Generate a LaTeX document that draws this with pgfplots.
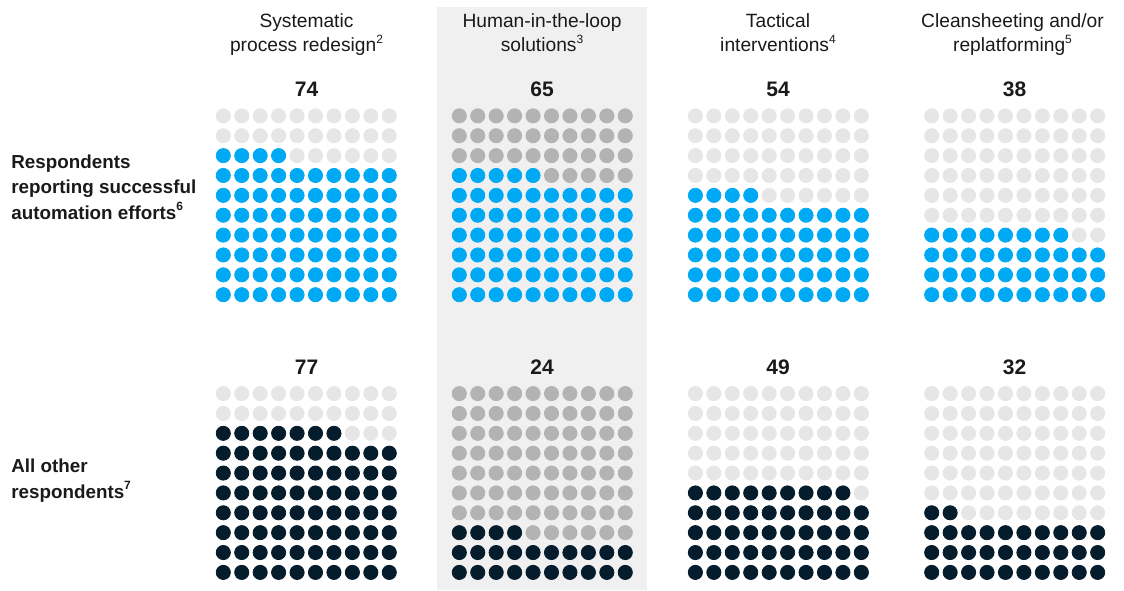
\documentclass[border=0pt]{standalone}
\usepackage{pgfplots}
\pgfplotsset{compat=1.18}
\usepackage{fontspec}
\setmainfont{Liberation Sans}
\definecolor{mckblue}{HTML}{00A9F4}
\definecolor{navy}{HTML}{051C2C}
\definecolor{lightdot}{HTML}{E6E6E6}
\definecolor{darkdot}{HTML}{B3B3B3}
\definecolor{panelbg}{HTML}{F0F0F0}
\definecolor{txt}{HTML}{1A1A1A}

% builds the coordinate lists of a 10x10 waffle: #1 x of first column, #2 y of bottom row, #3 value
\newcommand\buildwaffle[3]{%
  \gdef\filledlist{}\gdef\emptylist{}%
  \foreach \r in {0,...,9}{%
    \foreach \c in {0,...,9}{%
      \pgfmathtruncatemacro\idx{\r*10+\c+1}%
      \pgfmathsetmacro\xx{#1+\c*18.44}%
      \pgfmathsetmacro\yy{#2-\r*19.87}%
      \ifnum\idx>#3\relax
        \xdef\emptylist{\emptylist(\xx,\yy)}%
      \else
        \xdef\filledlist{\filledlist(\xx,\yy)}%
      \fi
    }%
  }%
}
\newcommand\waffle[5]{%
  \buildwaffle{#1}{#2}{#3}%
  \edef\tmp{%
    \noexpand\addplot[only marks, mark=*, mark size=3.55pt, color=#5, mark options={draw=none, fill=#5}] coordinates {\emptylist};
    \noexpand\addplot[only marks, mark=*, mark size=3.55pt, color=#4, mark options={draw=none, fill=#4}] coordinates {\filledlist};
  }\tmp
}
\newcommand\fnsup[1]{\raisebox{0.45em}{\fontsize{6}{6}\selectfont #1}}

\begin{document}
\begin{tikzpicture}
\begin{axis}[
  scale only axis, width=562pt, height=295pt,
  xmin=0, xmax=1124, ymin=0, ymax=590, y dir=reverse,
  hide axis, clip=false,
  every node/.append style={inner sep=0pt, outer sep=0pt, text=txt},
]
\path (axis cs:0,0) rectangle (axis cs:1124,590);
% shaded panel
\addplot[fill=panelbg, draw=none] coordinates {(437,7) (647,7) (647,590) (437,590)} -- cycle;

% top row: respondents reporting successful automation efforts
\waffle{223.3}{294.7}{74}{mckblue}{lightdot}
\waffle{459.3}{294.7}{65}{mckblue}{darkdot}
\waffle{695.4}{294.7}{54}{mckblue}{lightdot}
\waffle{931.7}{294.7}{38}{mckblue}{lightdot}
% bottom row: all other respondents
\waffle{223.3}{572.4}{77}{navy}{lightdot}
\waffle{459.3}{572.4}{24}{navy}{darkdot}
\waffle{695.4}{572.4}{49}{navy}{lightdot}
\waffle{931.7}{572.4}{32}{navy}{lightdot}

% column headers
\begin{scope}[every node/.style={anchor=base, inner sep=0pt, text=txt, font=\fontsize{9.6}{12}\selectfont}]
\node at (axis cs:306.5,27.7) {Systematic};
\node at (axis cs:306.5,51.7) {process redesign\fnsup{2}};
\node at (axis cs:542,27.7) {Human-in-the-loop};
\node at (axis cs:542,51.7) {solutions\fnsup{3}};
\node at (axis cs:778,27.7) {Tactical};
\node at (axis cs:778,51.7) {interventions\fnsup{4}};
\node at (axis cs:1012.5,27.7) {Cleansheeting and/or};
\node at (axis cs:1012.5,51.7) {replatforming\fnsup{5}};
\end{scope}

% values
\begin{scope}[every node/.style={anchor=base, inner sep=0pt, text=txt, font=\fontsize{10.5}{12}\selectfont\bfseries}]
\node at (axis cs:306.5,96.7) {74};
\node at (axis cs:542,96.7) {65};
\node at (axis cs:778,96.7) {54};
\node at (axis cs:1014.5,96.7) {38};
\node at (axis cs:306.5,374.3) {77};
\node at (axis cs:542,374.3) {24};
\node at (axis cs:778,374.3) {49};
\node at (axis cs:1014.5,374.3) {32};
\end{scope}

% row labels
\begin{scope}[every node/.style={anchor=base west, inner sep=0pt, text=txt, font=\fontsize{9.4}{12}\selectfont\bfseries}]
\node at (axis cs:11,168.3) {Respondents};
\node at (axis cs:11,193.8) {reporting successful};
\node at (axis cs:11,219.3) {automation efforts\fnsup{6}};
\node at (axis cs:11,472.7) {All other};
\node at (axis cs:11,498.3) {respondents\fnsup{7}};
\end{scope}
\end{axis}
\end{tikzpicture}
\end{document}
